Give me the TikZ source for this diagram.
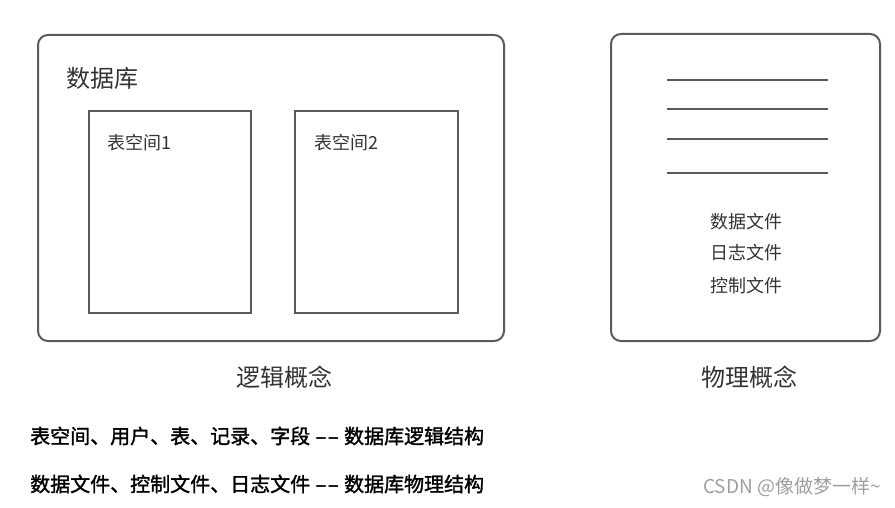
\documentclass[tikz,border=0pt]{standalone}
\usepackage{fontspec}
\setmainfont{Noto Sans CJK SC}
\newfontfamily\notefont[FakeBold=1.6]{Noto Sans CJK SC}
\definecolor{edge}{HTML}{5A5A5A}
\definecolor{txt}{HTML}{333333}
\newcommand{\dd}{\ \kern1pt–\kern1.5pt–\kern1pt\ }
\tikzset{
  outerbox/.style={draw=edge, line width=2pt, rounded corners=10pt},
  innerbox/.style={draw=edge, line width=2pt},
  ruleline/.style={draw=edge, line width=2pt},
  lbl/.style={text=txt, inner sep=0pt, font=\fontsize{18}{21}\selectfont},
  captext/.style={text=txt, inner sep=0pt, font=\fontsize{24}{28}\selectfont},
  notetext/.style={text=black, inner sep=0pt, anchor=west, font=\notefont\fontsize{20}{24}\selectfont},
}
\begin{document}
\begin{tikzpicture}[x=1pt,y=-1pt]
\useasboundingbox (0,0) rectangle (895,508);
% logical
\draw[outerbox] (38,35) rectangle (504,341);
\node[captext, anchor=west] (db) at (66,78) {数据库};
\draw[innerbox] (89,111) rectangle (251,313);
\draw[innerbox] (295,111) rectangle (458,313);
\node[lbl, anchor=west] (ts1) at (107,143) {表空间1};
\node[lbl, anchor=west] (ts2) at (314,143) {表空间2};
\node[captext] (logic) at (284,377) {逻辑概念};
% physical
\draw[outerbox] (611,34) rectangle (880,341);
\foreach \y in {80,109,139,173} \draw[ruleline] (667,\y) -- (828,\y);
\node[lbl] (f1) at (746,222) {数据文件};
\node[lbl] (f2) at (746,253) {日志文件};
\node[lbl] (f3) at (746,286) {控制文件};
\node[captext] (phys) at (749,377) {物理概念};
% notes
\node[notetext] (n1) at (30,436) {表空间、用户、表、记录、字段\dd 数据库逻辑结构};
\node[notetext] (n2) at (30,484) {数据文件、控制文件、日志文件\dd 数据库物理结构};
\node[text=gray!75, inner sep=0pt, anchor=east, font=\fontsize{19}{22}\selectfont] (wm) at (881,487) {CSDN @像做梦一样\textasciitilde};
\end{tikzpicture}
\end{document}
